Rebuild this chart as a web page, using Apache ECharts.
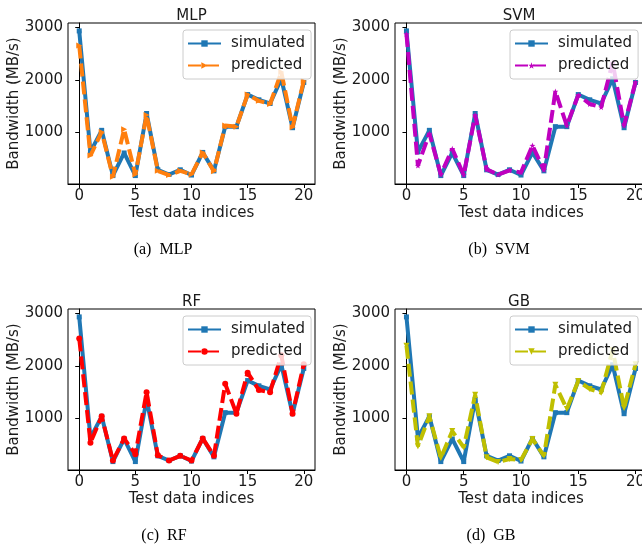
<!DOCTYPE html>
<html>
<head>
<meta charset="utf-8">
<script src="https://cdn.jsdelivr.net/npm/echarts@6/dist/echarts.min.js"></script>
<style>
  html, body { margin: 0; padding: 0; background: #fff; }
  #chart { width: 642px; height: 550px; }
</style>
</head>
<body>
<div id="chart"></div>
<script>
// test data indices 0..20
const indices = [0, 1, 2, 3, 4, 5, 6, 7, 8, 9, 10, 11, 12, 13, 14, 15, 16, 17, 18, 19, 20];

// simulated bandwidth (MB/s), same in every panel
const simulated = [2930, 630, 1040, 180, 610, 180, 1360, 290, 200, 290, 190, 620, 270, 1110, 1110, 1720, 1620, 1550, 2020, 1090, 1950];

// predicted bandwidth per model
const predMLP = [2650, 560, 1010, 160, 1060, 200, 1330, 270, 190, 270, 200, 620, 260, 1130, 1110, 1720, 1600, 1540, 2150, 1100, 1980];
const predSVM = [2870, 370, 980, 200, 690, 190, 1330, 300, 200, 280, 240, 750, 290, 1780, 1130, 1710, 1540, 1480, 2330, 1130, 1960];
const predRF = [2520, 540, 1040, 200, 620, 320, 1500, 300, 200, 290, 200, 620, 290, 1660, 1090, 1870, 1540, 1500, 2200, 1090, 2030];
const predGB = [2380, 470, 1040, 250, 760, 450, 1450, 260, 170, 230, 210, 610, 290, 1640, 1180, 1710, 1560, 1490, 2300, 1200, 2030];

const modelNames = ["MLP", "SVM", "RF", "GB"];
const captions = ["(a)  MLP", "(b)  SVM", "(c)  RF", "(d)  GB"];
const xTicks = [0, 5, 10, 15, 20];
const yTicks = [1000, 2000, 3000];

const STAR = "path://M0,-10L2.35,-3.24L9.51,-3.09L3.8,1.24L5.88,8.09L0,4L-5.88,8.09L-3.8,1.24L-9.51,-3.09L-2.35,-3.24Z";

const panels = [
  { pred: predMLP, color: "#ff7f0e", symbol: "triangle", rotate: -90, left: 68, top: 23, width: 247, cap: [163, 250] },
  { pred: predSVM, color: "#bf00bf", symbol: STAR, rotate: 0, left: 395, top: 23, width: 252, cap: [499, 250] },
  { pred: predRF, color: "#ff0000", symbol: "circle", rotate: 0, left: 68, top: 309, width: 247, cap: [164, 536] },
  { pred: predGB, color: "#bfbf00", symbol: "triangle", rotate: 180, left: 395, top: 309, width: 252, cap: [491, 536] },
];
const plotH = 161;

const FONT = "DejaVu Sans";
const TXT = "#1a1a1a";
const FS = 15;

const grids = [], xAxes = [], yAxes = [], series = [], legends = [], titles = [];

panels.forEach((p, i) => {
  const tag = "-" + i;
  grids.push({
    left: p.left, top: p.top, width: p.width, height: plotH,
    show: true, borderColor: "#000", borderWidth: 1, backgroundColor: "#fff",
    outerBoundsMode: "none",
  });
  xAxes.push({
    gridIndex: i, type: "value", min: -1, max: 21,
    name: "Test data indices", nameLocation: "middle", nameGap: 22,
    nameTextStyle: { fontFamily: FONT, fontSize: FS, color: TXT },
    axisLine: { show: true, lineStyle: { color: "#000", width: 1 } },
    axisTick: { show: true, length: 4, lineStyle: { color: "#000" }, customValues: xTicks },
    axisLabel: { fontFamily: FONT, fontSize: FS, color: TXT, margin: 5, customValues: xTicks },
    splitLine: { show: false },
  });
  yAxes.push({
    gridIndex: i, type: "value", min: 20, max: 3080,
    name: "Bandwidth (MB/s)", nameLocation: "middle", nameGap: 46, nameMoveOverlap: false,
    nameTextStyle: { fontFamily: FONT, fontSize: FS, color: TXT },
    axisLine: { show: true, lineStyle: { color: "#000", width: 1 } },
    axisTick: { show: true, length: 4, lineStyle: { color: "#000" }, customValues: yTicks },
    axisLabel: {
      fontFamily: FONT, fontSize: FS, color: TXT, margin: 5, customValues: yTicks,
      formatter: (v) => String(v),
    },
    splitLine: { show: false },
  });
  series.push({
    name: "simulated" + tag, type: "line", xAxisIndex: i, yAxisIndex: i,
    data: indices.map((x, k) => [x, simulated[k]]),
    symbol: "rect", symbolSize: 5, showAllSymbol: true,
    itemStyle: { color: "#1f77b4" },
    lineStyle: { color: "#1f77b4", width: 4 },
    animation: false, z: 2,
  });
  series.push({
    name: "predicted" + tag, type: "line", xAxisIndex: i, yAxisIndex: i,
    data: indices.map((x, k) => [x, p.pred[k]]),
    symbol: p.symbol, symbolSize: 6, symbolRotate: p.rotate, showAllSymbol: true,
    itemStyle: { color: p.color },
    lineStyle: { color: p.color, width: 4, type: [13, 5] },
    animation: false, z: 3,
  });
  legends.push({
    data: ["simulated" + tag, "predicted" + tag],
    formatter: (n) => n.split("-")[0],
    orient: "vertical",
    left: p.left + 115, top: p.top + 7,
    itemWidth: 33, itemHeight: 8, itemGap: 7,
    padding: [6, 6, 6, 4],
    backgroundColor: "rgba(255,255,255,0.8)",
    borderColor: "#cccccc", borderWidth: 1, borderRadius: 3,
    textStyle: { fontFamily: FONT, fontSize: FS, color: TXT, padding: [0, 0, 0, 5] },
    selectedMode: false,
  });
  titles.push({
    text: modelNames[i], left: p.left + p.width / 2 - (i % 2 ? 2 : 0), top: p.top - 14,
    textAlign: "center", padding: 0,
    textStyle: { fontFamily: FONT, fontSize: FS, fontWeight: "normal", color: TXT },
  });
  titles.push({
    text: captions[i], left: p.cap[0], top: p.cap[1] - 8,
    textAlign: "center", padding: 0,
    textStyle: { fontFamily: "Liberation Serif", fontSize: 16, fontWeight: "normal", color: "#000" },
  });
});

const chart = echarts.init(document.getElementById("chart"), null, { renderer: "canvas" });
chart.setOption({
  animation: false,
  backgroundColor: "#fff",
  title: titles,
  legend: legends,
  grid: grids,
  xAxis: xAxes,
  yAxis: yAxes,
  series: series,
});
</script>
</body>
</html>
